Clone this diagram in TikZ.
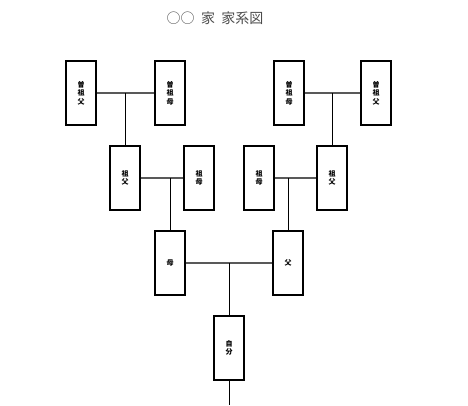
\documentclass[tikz,border=0pt]{standalone}
\usepackage{fontspec}
\newfontfamily\cjk{Noto Sans CJK JP}
\begin{document}
\begin{tikzpicture}[x=1pt,y=-1pt,
  box/.style={draw,line width=1.3pt,minimum width=30pt,minimum height=64pt,inner sep=0pt,font=\cjk\fontsize{7}{8.5}\selectfont\bfseries,align=center},
  link/.style={draw=gray!70!black,line width=1.3pt}]
\useasboundingbox (0,0) rectangle (468,405);
\node[font=\cjk\fontsize{14}{16}\selectfont\addfontfeature{FakeBold=0},text=gray!60!black] (t) at (215,18) {○○\ \ 家\ \ 家系図};
\node[box] (a1) at (81,93) {曽\\祖\\父};
\node[box] (a2) at (170,93) {曽\\祖\\母};
\node[box] (a3) at (289,93) {曽\\祖\\母};
\node[box] (a4) at (376,93) {曽\\祖\\父};
\node[box] (b1) at (125,178) {祖\\父};
\node[box] (b2) at (199,178) {祖\\母};
\node[box] (b3) at (259,178) {祖\\母};
\node[box] (b4) at (332,178) {祖\\父};
\node[box] (m) at (170,263) {母};
\node[box] (f) at (288,263) {父};
\node[box] (s) at (229,348) {自\\分};
\coordinate (bot) at (229,405);
\draw[link] (a1) -- (a2); \draw[link] (a3) -- (a4);
\draw[link] (b1) -- (b2); \draw[link] (b3) -- (b4);
\draw[link] (m) -- (f);
\draw[thick] (b1.north) -- (b1.north|-a1.east);
\draw[thick] (b4.north) -- (b4.north|-a4.west);
\draw[thick] (m.north) -- (m.north|-b1.east);
\draw[thick] (f.north) -- (f.north|-b4.west);
\draw[thick] (s.north) -- (s.north|-m.east);
\draw[thick] (s.south) -- (bot);
\end{tikzpicture}
\end{document}
